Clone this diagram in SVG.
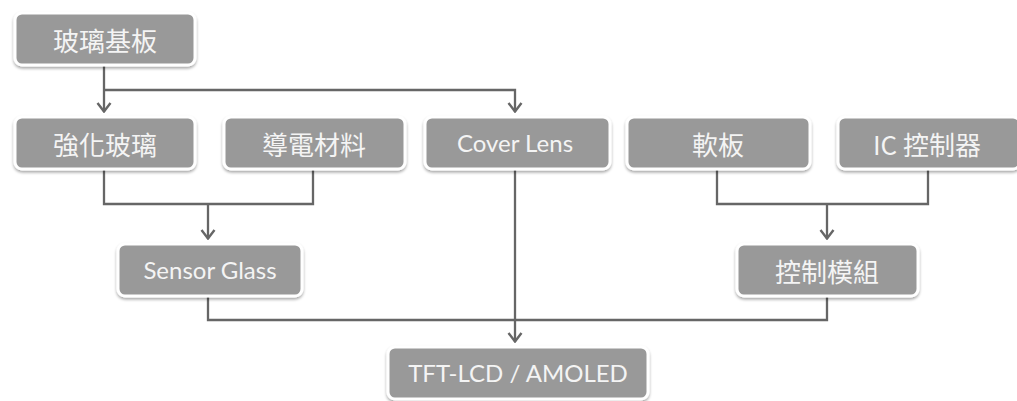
<svg xmlns="http://www.w3.org/2000/svg" width="1017" height="401" viewBox="0 0 1017 401">
<defs>
<filter id="sh" x="-10%" y="-20%" width="120%" height="150%">
<feGaussianBlur in="SourceAlpha" stdDeviation="1.5"/>
<feOffset dx="0" dy="1.5" result="b"/>
<feComponentTransfer><feFuncA type="linear" slope="0.35"/></feComponentTransfer>
<feMerge><feMergeNode/><feMergeNode in="SourceGraphic"/></feMerge>
</filter>
<marker id="arr" viewBox="0 0 11 16" refX="10" refY="8" markerWidth="11" markerHeight="16" markerUnits="userSpaceOnUse" orient="auto">
<path d="M1,1.5 L9.5,8 L1,14.5" fill="none" stroke="#666" stroke-width="2.4"/>
</marker>
</defs>
<style>
.box{fill:#999999;stroke:#ffffff;stroke-width:3;filter:url(#sh)}
.t{fill:#f4f4f4;font-family:"Noto Sans CJK TC","Noto Sans CJK SC",sans-serif;font-size:26px;text-anchor:middle;dominant-baseline:central}
.l{fill:#f4f4f4;font-family:Lato,"Open Sans",sans-serif;font-size:24px;text-anchor:middle;dominant-baseline:central}
.c{fill:none;stroke:#666666;stroke-width:2.3}
</style>
<rect width="1017" height="401" fill="#ffffff"/>
<g id="connectors">
<path class="c" d="M104,66 V112" marker-end="url(#arr)"/>
<path class="c" d="M104,90 H515 V112" marker-end="url(#arr)"/>
<path class="c" d="M104,170 V204 H313 V170"/>
<path class="c" d="M208,204 V239" marker-end="url(#arr)"/>
<path class="c" d="M717,170 V204 H928 V170"/>
<path class="c" d="M827,204 V239" marker-end="url(#arr)"/>
<path class="c" d="M208,297 V320 H827 V297"/>
<path class="c" d="M515,170 V342" marker-end="url(#arr)"/>
</g>
<g id="n1"><rect class="box" x="15" y="13" width="180" height="52" rx="7"/><text class="t" x="105" y="39">玻璃基板</text></g>
<g id="n2"><rect class="box" x="15" y="117" width="180" height="52" rx="7"/><text class="t" x="105" y="143">強化玻璃</text></g>
<g id="n3"><rect class="box" x="224" y="117" width="181" height="52" rx="7"/><text class="t" x="314" y="143">導電材料</text></g>
<g id="n4"><rect class="box" x="425" y="117" width="185" height="52" rx="7"/><text class="l" x="515" y="142">Cover Lens</text></g>
<g id="n5"><rect class="box" x="627" y="117" width="183" height="52" rx="7"/><text class="t" x="718" y="143">軟板</text></g>
<g id="n6"><rect class="box" x="838" y="117" width="182" height="52" rx="7"/><text class="t" x="927" y="143">IC 控制器</text></g>
<g id="n7"><rect class="box" x="118" y="244" width="184" height="52" rx="7"/><text class="l" x="210" y="269">Sensor Glass</text></g>
<g id="n8"><rect class="box" x="737" y="244" width="181" height="52" rx="7"/><text class="t" x="827" y="270">控制模組</text></g>
<g id="n9"><rect class="box" x="388" y="347" width="260" height="52" rx="7"/><text class="l" x="518" y="372">TFT-LCD / AMOLED</text></g>
</svg>
